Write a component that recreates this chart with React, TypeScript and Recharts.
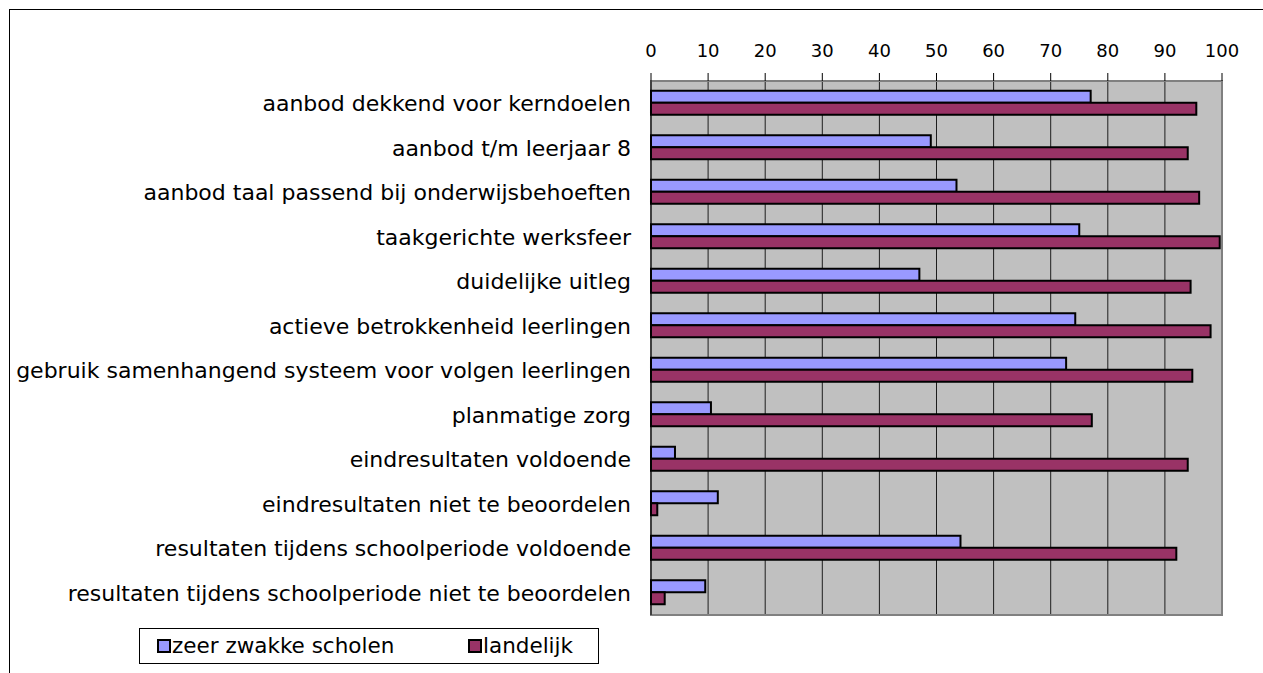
import React from "react";
import { BarChart, Bar, XAxis, YAxis, CartesianGrid, ReferenceArea } from "recharts";

const categories = [
  "aanbod dekkend voor kerndoelen",
  "aanbod t/m leerjaar 8",
  "aanbod taal passend bij onderwijsbehoeften",
  "taakgerichte werksfeer",
  "duidelijke uitleg",
  "actieve betrokkenheid leerlingen",
  "gebruik samenhangend systeem voor volgen leerlingen",
  "planmatige zorg",
  "eindresultaten voldoende",
  "eindresultaten niet te beoordelen",
  "resultaten tijdens schoolperiode voldoende",
  "resultaten tijdens schoolperiode niet te beoordelen",
];
const zeerZwakke = [77, 49, 53.5, 75, 47, 74.3, 72.7, 10.5, 4.2, 11.7, 54.2, 9.5];
const landelijk = [95.5, 94, 96, 99.6, 94.5, 98, 94.8, 77.2, 94, 1.1, 92, 2.4];
const xTicks = [0, 10, 20, 30, 40, 50, 60, 70, 80, 90, 100];
const seriesNames = ["zeer zwakke scholen", "landelijk"];

const data = categories.map((c, i) => ({ name: c, zwak: zeerZwakke[i], land: landelijk[i] }));

const FONT = "'DejaVu Sans', Verdana, sans-serif";
const BLUE = "#9999FF";
const RED = "#993366";

const sq = (color: string, left: number): React.CSSProperties => ({
  position: "absolute",
  left,
  top: 10,
  width: 10,
  height: 10,
  border: "2px solid #000",
  background: color,
});

const LegendBox = () => (
  <div
    style={{
      position: "absolute",
      left: 129,
      top: 618,
      width: 460,
      height: 36,
      boxSizing: "border-box",
      border: "1px solid #000",
      fontFamily: FONT,
      fontSize: 21.5,
      color: "#000",
      background: "#fff",
    }}
  >
    <span style={sq(BLUE, 17)} />
    <span style={{ position: "absolute", left: 32, top: 4, lineHeight: "25px", whiteSpace: "nowrap" }}>{seriesNames[0]}</span>
    <span style={sq(RED, 328)} />
    <span style={{ position: "absolute", left: 343, top: 4, lineHeight: "25px", whiteSpace: "nowrap" }}>{seriesNames[1]}</span>
  </div>
);

export default function App() {
  return (
    <div
      style={{
        position: "absolute",
        left: 9,
        top: 9,
        width: 1270,
        height: 680,
        border: "1px solid #000",
        background: "#fff",
        overflow: "hidden",
      }}
    >
      <BarChart
        width={1253}
        height={663}
        data={data}
        layout="vertical"
        margin={{ top: 0, right: 41, bottom: 58, left: 0 }}
        barCategoryGap="22%"
        barGap={0}
        style={{ fontFamily: FONT }}
      >
        <CartesianGrid horizontal={false} vertical={true} stroke="#000" strokeOpacity={0.85} fill="#C0C0C0" fillOpacity={1} />
        <XAxis
          type="number"
          orientation="top"
          domain={[0, 100]}
          ticks={xTicks}
          interval={0}
          height={71}
          tickSize={8}
          tickMargin={16}
          axisLine={{ stroke: "#808080", strokeWidth: 2 }}
          tickLine={{ stroke: "#000" }}
          tick={{ fill: "#000", fontSize: 18, fontFamily: FONT }}
        />
        <YAxis
          type="category"
          dataKey="name"
          width={641}
          interval={0}
          tickLine={false}
          tickMargin={14}
          axisLine={{ stroke: "#000", strokeWidth: 1 }}
          tick={{ fill: "#000", fontSize: 22, fontFamily: FONT }}
        />
        <ReferenceArea x1={0} x2={100} fill="none" stroke="#808080" strokeWidth={2} ifOverflow="visible" />
        <Bar dataKey="zwak" name={seriesNames[0]} fill={BLUE} stroke="#000" strokeWidth={2} isAnimationActive={false} />
        <Bar dataKey="land" name={seriesNames[1]} fill={RED} stroke="#000" strokeWidth={2} isAnimationActive={false} />
      </BarChart>
      <LegendBox />
    </div>
  );
}
